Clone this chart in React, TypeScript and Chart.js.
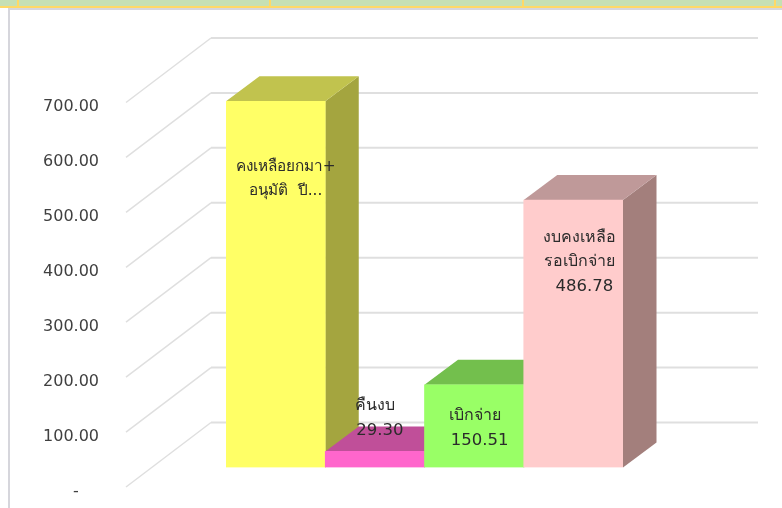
import React, { useEffect, useRef } from "react";
import { Chart, registerables } from "chart.js";

Chart.register(...registerables);

const categories = ["คงเหลือยกมา+อนุมัติ ปี...", "คืนงบ", "เบิกจ่าย", "งบคงเหลือรอเบิกจ่าย"];
const values = [666.59, 29.3, 150.51, 486.78];
const labelLines = [
  ["คงเหลือยกมา+", "อนุมัติ  ปี..."],
  ["คืนงบ", "29.30"],
  ["เบิกจ่าย", "150.51"],
  ["งบคงเหลือ", "รอเบิกจ่าย", "486.78"],
];
const frontColors = ["#FFFF66", "#FF66CC", "#99FF66", "#FFCCCC"];
const topColors = ["#C1C34E", "#C04F99", "#73BF4D", "#BF9999"];
const sideColors = ["#A4A53F", "#A33F82", "#5FA33F", "#A37F7C"];

const FONT = '"DejaVu Sans", "Noto Sans", sans-serif';
const DEPTH_X = 33.5;
const DEPTH_Y = 25;
const labelAnchors = [
  { dx: 10, y: 167, size: 15.3 },
  { dx: 0.5, y: 406, size: 16 },
  { dx: 1, y: 416, size: 16 },
  { dx: 6.5, y: 238, size: 16 },
];
const LINE_GAP = 24.3;
const NUMBER_DX = 4.5;

const box3d = {
  id: "box3d",
  beforeDatasetsDraw(chart: any) {
    const { ctx, scales } = chart;
    const y = scales.y;
    ctx.save();
    ctx.strokeStyle = "#DFDFDF";
    y.ticks.forEach((t: any) => {
      const p = y.getPixelForValue(t.value);
      const back = p - 45;
      const front = p + 19.5;
      ctx.lineWidth = 1.5;
      ctx.beginPath();
      ctx.moveTo(126, front);
      ctx.lineTo(211, back);
      ctx.stroke();
      ctx.lineWidth = 2;
      ctx.beginPath();
      ctx.moveTo(211, back);
      ctx.lineTo(758, back);
      ctx.stroke();
    });
    const bars = chart.getDatasetMeta(0).data;
    bars.forEach((b: any, i: number) => {
      const r = b.x + b.width / 2;
      const l = b.x - b.width / 2;
      ctx.fillStyle = sideColors[i];
      ctx.beginPath();
      ctx.moveTo(r, b.y);
      ctx.lineTo(r + DEPTH_X, b.y - DEPTH_Y);
      ctx.lineTo(r + DEPTH_X, b.base - DEPTH_Y);
      ctx.lineTo(r, b.base);
      ctx.closePath();
      ctx.fill();
      ctx.fillStyle = topColors[i];
      ctx.beginPath();
      ctx.moveTo(l, b.y);
      ctx.lineTo(l + DEPTH_X, b.y - DEPTH_Y);
      ctx.lineTo(r + DEPTH_X, b.y - DEPTH_Y);
      ctx.lineTo(r, b.y);
      ctx.closePath();
      ctx.fill();
    });
    ctx.restore();
  },
  afterDatasetsDraw(chart: any) {
    const { ctx } = chart;
    const bars = chart.getDatasetMeta(0).data;
    ctx.save();
    ctx.fillStyle = "#2b2b2b";
    ctx.textAlign = "center";
    ctx.textBaseline = "middle";
    bars.forEach((b: any, i: number) => {
      const a = labelAnchors[i];
      labelLines[i].forEach((line, k) => {
        const isNumber = /^[\d.]+$/.test(line);
        ctx.font = `${isNumber ? 16.5 : a.size}px ${FONT}`;
        ctx.fillText(line, b.x + a.dx + (isNumber ? NUMBER_DX : 0), a.y + k * LINE_GAP);
      });
    });
    ctx.restore();
  },
};

const chrome: React.CSSProperties[] = [
  { left: 0, top: 0, width: 782, height: 6, background: "#C6E0B4" },
  { left: 0, top: 6, width: 782, height: 2, background: "#FFD966" },
  { left: 8, top: 8, width: 774, height: 2, background: "#D6D6DC" },
  { left: 8, top: 8, width: 2, height: 500, background: "#D6D6DC" },
  { left: 17, top: 0, width: 2, height: 7, background: "#FFD966" },
  { left: 269, top: 0, width: 2, height: 7, background: "#FFD966" },
  { left: 522, top: 0, width: 2, height: 7, background: "#FFD966" },
  { left: 774, top: 0, width: 2, height: 7, background: "#FFD966" },
];

export default function App() {
  const ref = useRef<HTMLCanvasElement>(null);
  useEffect(() => {
    const chart = new Chart(ref.current!, {
      type: "bar",
      data: {
        labels: categories,
        datasets: [
          {
            data: values,
            backgroundColor: frontColors,
            barPercentage: 1,
            categoryPercentage: 1,
            borderWidth: 0,
          },
        ],
      },
      plugins: [box3d],
      options: {
        animation: false,
        responsive: false,
        layout: { padding: { left: 0, right: 159, top: 83, bottom: 40.5 } },
        plugins: { legend: { display: false }, tooltip: { enabled: false } },
        scales: {
          x: { display: false },
          y: {
            min: 0,
            max: 700,
            grid: { display: false, drawTicks: false },
            border: { display: false },
            afterFit(s: any) {
              s.width = 226;
              s.paddingTop = 0;
              s.paddingBottom = 0;
            },
            ticks: {
              stepSize: 100,
              autoSkip: false,
              padding: 127,
              labelOffset: 24,
              color: "#404040",
              font: { family: FONT, size: 16 },
              callback: (v: any) => (Number(v) === 0 ? "-\u00A0\u00A0\u00A0\u00A0" : Number(v).toFixed(2)),
            },
          },
        },
      } as any,
    });
    return () => chart.destroy();
  }, []);
  return (
    <div style={{ position: "fixed", left: 0, top: 0, width: 782, height: 508, background: "#fff", overflow: "hidden" }}>
      <canvas ref={ref} width={782} height={508} style={{ display: "block", width: 782, height: 508 }} />
      {chrome.map((s, i) => (
        <div key={i} style={{ position: "absolute", ...s }} />
      ))}
    </div>
  );
}
